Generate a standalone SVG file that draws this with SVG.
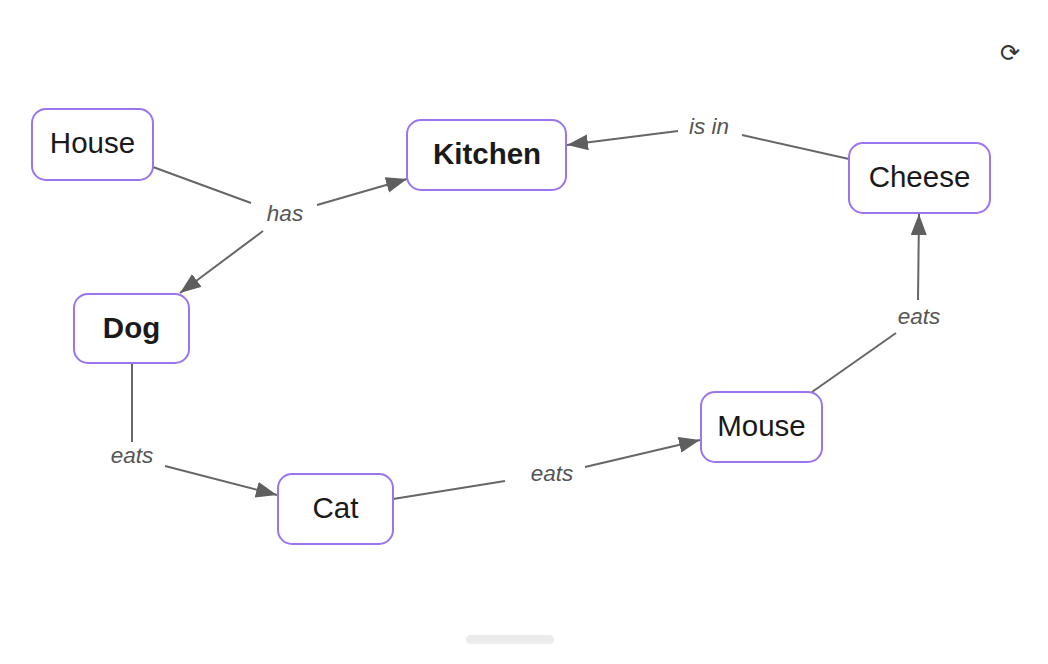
<svg xmlns="http://www.w3.org/2000/svg" width="1048" height="664" viewBox="0 0 1048 664">
<defs>
<marker id="arr" markerUnits="userSpaceOnUse" markerWidth="24" markerHeight="18" refX="21" refY="8" orient="auto">
<path d="M0,0 L21,8 L0,16 z" fill="#5f5f5f"/>
</marker>
<style>
.node rect{fill:#fff;stroke:#9b74f0;stroke-width:2}
.node text{font-family:"Liberation Sans",Arial,sans-serif;font-size:29.5px;fill:#1a1a1a;text-anchor:middle;dominant-baseline:central}
.bold text{font-weight:bold}
.edge{stroke:#666;stroke-width:2;fill:none}
.lbl{font-family:"Liberation Sans",Arial,sans-serif;font-size:22.5px;font-style:italic;fill:#555;text-anchor:middle;dominant-baseline:central}
</style>
</defs>
<rect width="1048" height="664" fill="#fff"/>
<g id="connectors">
<line class="edge" x1="153" y1="167" x2="251" y2="203"/>
<line class="edge" x1="317" y1="205" x2="407" y2="179" marker-end="url(#arr)"/>
<line class="edge" x1="263" y1="231" x2="180" y2="293" marker-end="url(#arr)"/>
<line class="edge" x1="849" y1="159" x2="742" y2="135"/>
<line class="edge" x1="678" y1="131" x2="567" y2="145" marker-end="url(#arr)"/>
<line class="edge" x1="132" y1="364" x2="132" y2="442"/>
<line class="edge" x1="165" y1="466" x2="277" y2="495" marker-end="url(#arr)"/>
<line class="edge" x1="393" y1="499" x2="505" y2="481"/>
<line class="edge" x1="585" y1="467" x2="700" y2="440" marker-end="url(#arr)"/>
<line class="edge" x1="812" y1="392" x2="896" y2="333"/>
<line class="edge" x1="918" y1="300" x2="919" y2="214" marker-end="url(#arr)"/>
<text class="lbl" x="285" y="213">has</text>
<text class="lbl" x="709" y="126">is in</text>
<text class="lbl" x="132" y="455">eats</text>
<text class="lbl" x="552" y="473">eats</text>
<text class="lbl" x="919" y="316">eats</text>
</g>
<g id="house" class="node"><rect x="32" y="109" width="121" height="71" rx="14"/><text x="92.5" y="142">House</text></g>
<g id="kitchen" class="node bold"><rect x="407" y="120" width="159" height="70" rx="14"/><text x="487" y="153">Kitchen</text></g>
<g id="cheese" class="node"><rect x="849" y="143" width="141" height="70" rx="14"/><text x="919.5" y="176">Cheese</text></g>
<g id="dog" class="node bold"><rect x="74" y="294" width="115" height="69" rx="14"/><text x="131.5" y="327">Dog</text></g>
<g id="cat" class="node"><rect x="278" y="474" width="115" height="70" rx="14"/><text x="335.5" y="507">Cat</text></g>
<g id="mouse" class="node"><rect x="701" y="392" width="121" height="70" rx="14"/><text x="761.5" y="425">Mouse</text></g>
<text x="1010" y="53" font-family="DejaVu Sans,sans-serif" font-size="24" fill="#333" text-anchor="middle" dominant-baseline="central">⟳</text>
<rect x="466" y="635" width="88" height="9" rx="4.5" fill="#ececec"/>
</svg>
